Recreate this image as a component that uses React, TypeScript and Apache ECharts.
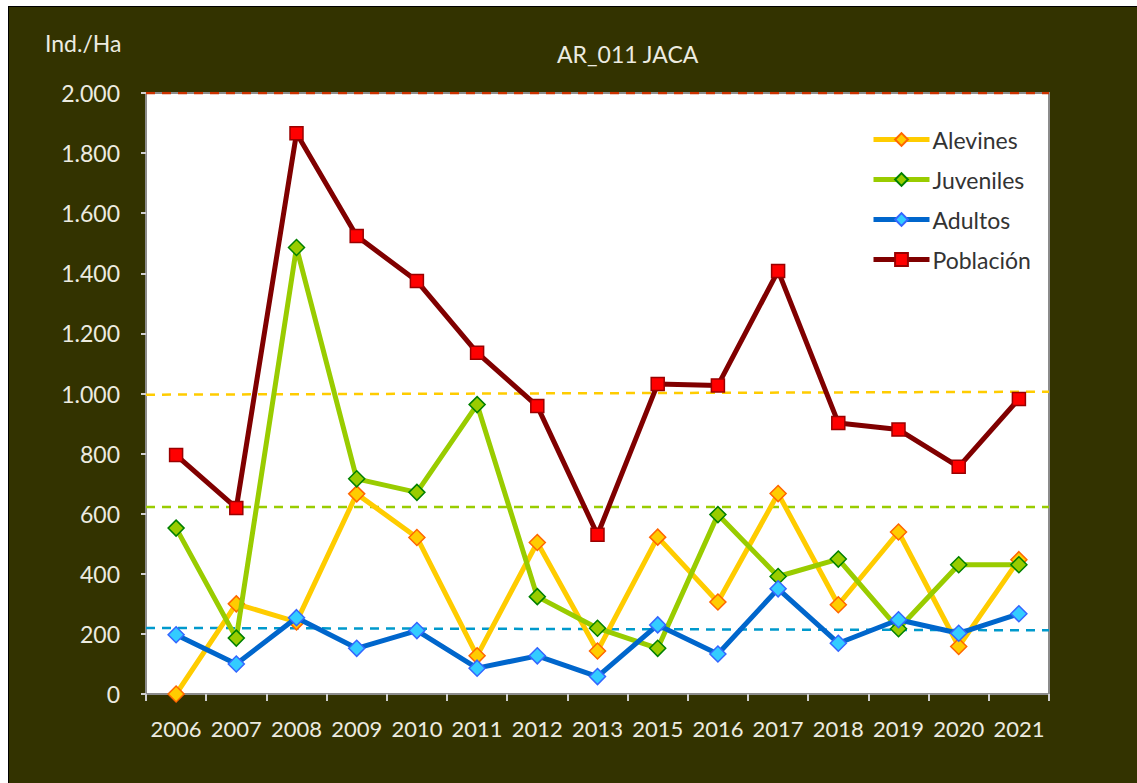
import React, { useEffect, useRef } from "react";
import * as echarts from "echarts";

const years = ["2006","2007","2008","2009","2010","2011","2012","2013","2015","2016","2017","2018","2019","2020","2021"];
const alevines = [0, 300, 240, 666, 521, 127, 504, 143, 522, 306, 667, 297, 539, 158, 447];
const juveniles = [552, 186, 1486, 716, 671, 963, 324, 219, 152, 597, 391, 449, 217, 430, 430];
const adultos = [197, 100, 254, 152, 211, 86, 127, 58, 230, 133, 350, 169, 247, 202, 267];
const poblacion = [795, 619, 1866, 1524, 1374, 1136, 958, 530, 1032, 1027, 1408, 902, 880, 756, 982];

// reference dashed lines: [start value, end value] across the plot
const refAlevines = [996, 1006];
const refJuveniles = [622, 622];
const refAdultos = [220, 212];
const refPoblacion = [2000, 2000];

const yTicks = { min: 0, max: 2000, interval: 200 };

const FONT = "Lato, 'Open Sans', sans-serif";
const TXT = "#ecebe0";

function fmt(v: number) {
  const s = String(Math.round(v));
  return s.replace(/\B(?=(\d{3})+(?!\d))/g, ".");
}

export default function App() {
  const ref = useRef<HTMLDivElement>(null);
  useEffect(() => {
    if (!ref.current) return;
    const chart = echarts.init(ref.current, undefined, { renderer: "svg" });
    const refLine = (name: string, vals: number[], color: string) => ({
      name,
      type: "line",
      xAxisIndex: 1,
      data: [[0, vals[0]], [1, vals[1]]],
      symbol: "none",
      silent: true,
      z: 1,
      lineStyle: { color, width: 2.5, type: [9, 7] },
    });
    const mainLine = (
      name: string,
      data: number[],
      color: string,
      symbol: string,
      symbolSize: number,
      fill: string,
      border: string,
      z: number
    ) => ({
      name,
      type: "line",
      data,
      symbol,
      symbolSize,
      z,
      lineStyle: { color, width: 5 },
      itemStyle: { color: fill, borderColor: border, borderWidth: 1.5 },
    });
    chart.setOption({
      animation: false,
      backgroundColor: "#333300",
      textStyle: { fontFamily: FONT },
      title: {
        text: "AR_011 JACA",
        left: 543,
        top: 30,
        textStyle: { color: TXT, fontSize: 23, fontWeight: "normal", fontFamily: FONT },
      },
      graphic: [
        {
          type: "text",
          left: 36,
          top: 24,
          style: { text: "Ind./Ha", fill: TXT, fontSize: 23, fontFamily: FONT },
        },
      ],
      legend: {
        data: ["Alevines", "Juveniles", "Adultos", "Población"],
        orient: "vertical",
        left: 857,
        top: 116,
        itemWidth: 56,
        itemHeight: 16,
        itemGap: 17,
        lineStyle: { width: 5 },
        textStyle: { color: "#333333", fontSize: 23, fontFamily: FONT, padding: [0, 0, 0, -2] },
      },
      grid: {
        left: 137,
        top: 86,
        right: 88,
        bottom: 89,
        show: true,
        backgroundColor: "#ffffff",
        borderColor: "#8c8c8c",
        borderWidth: 2,
      },
      xAxis: [
        {
          type: "category",
          data: years,
          boundaryGap: true,
          axisLine: { lineStyle: { color: "#8c8c8c", width: 2 } },
          axisTick: { show: true, length: 7, lineStyle: { color: "#cfcfcf", width: 2 } },
          axisLabel: { color: TXT, fontSize: 22, margin: 23, fontFamily: FONT, interval: 0 },
          splitLine: { show: false },
        },
        {
          type: "value",
          min: 0,
          max: 1,
          show: false,
        },
      ],
      yAxis: {
        type: "value",
        min: yTicks.min,
        max: yTicks.max,
        interval: yTicks.interval,
        axisLine: { show: true, lineStyle: { color: "#8c8c8c", width: 2 } },
        axisTick: { show: true, length: 5, lineStyle: { color: "#cfcfcf", width: 2 } },
        axisLabel: { color: TXT, fontSize: 23, margin: 26, fontFamily: FONT, formatter: (v: number) => fmt(v) },
        splitLine: { show: false },
      },
      series: [
        refLine("refAlevines", refAlevines, "#FFCC00"),
        refLine("refJuveniles", refJuveniles, "#99CC00"),
        refLine("refAdultos", refAdultos, "#0099CC"),
        refLine("refPoblacion", refPoblacion, "#CC3300"),
        mainLine("Alevines", alevines, "#FFCC00", "diamond", 16, "#FFCC00", "#FF6600", 3),
        mainLine("Juveniles", juveniles, "#99CC00", "diamond", 16, "#99CC00", "#008000", 4),
        mainLine("Adultos", adultos, "#0066CC", "diamond", 16, "#33CCFF", "#3366FF", 5),
        mainLine("Población", poblacion, "#800000", "rect", 13, "#FF0000", "#990000", 6),
      ],
    });
    return () => chart.dispose();
  }, []);
  return (
    <div
      style={{
        position: "absolute",
        left: 8,
        top: 6,
        borderTop: "1px solid #000",
        borderLeft: "1px solid #000",
      }}
    >
      <div ref={ref} style={{ width: 1128, height: 776 }} />
    </div>
  );
}
